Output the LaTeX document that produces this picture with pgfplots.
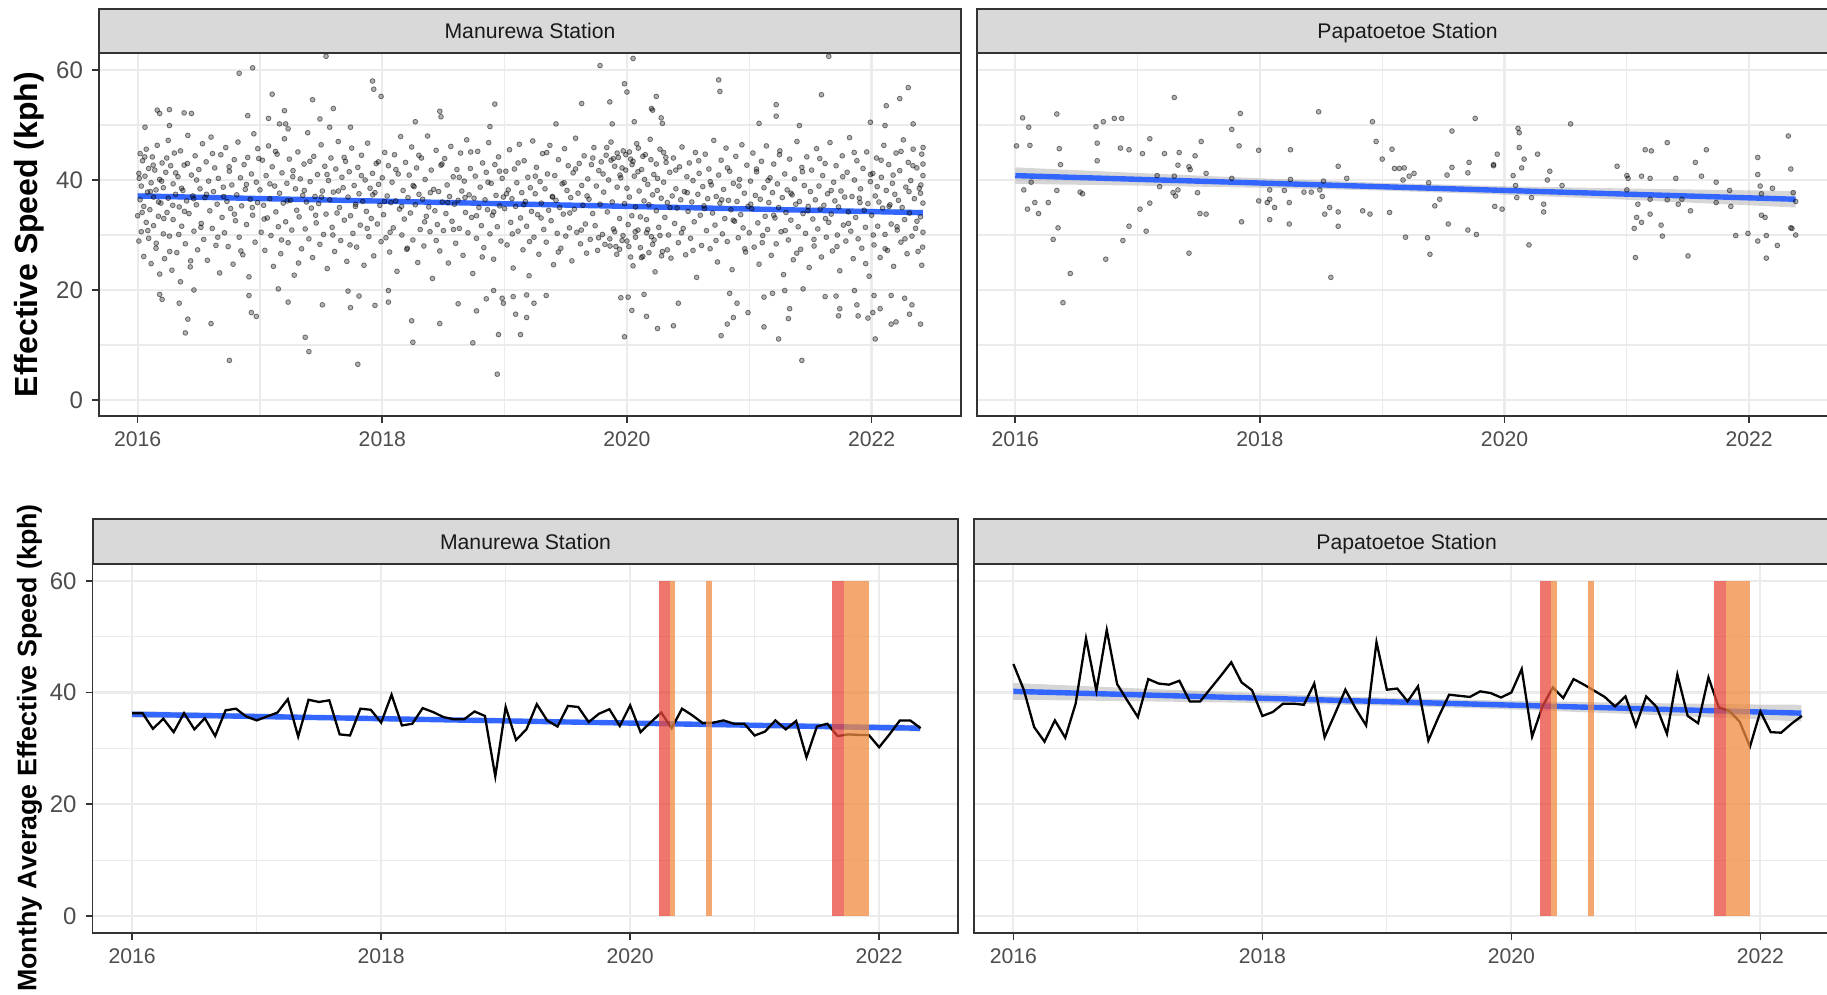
\documentclass[border=0pt]{standalone}
\usepackage{fontspec}
\setmainfont{Liberation Sans}
\usepackage{pgfplots}
\pgfplotsset{compat=1.18}
\definecolor{gridc}{HTML}{EBEBEB}
\definecolor{framec}{HTML}{333333}
\definecolor{stripc}{HTML}{D9D9D9}
\definecolor{tickc}{HTML}{4D4D4D}
\definecolor{stript}{HTML}{1A1A1A}
\definecolor{fitblue}{HTML}{3366FF}
\definecolor{lvfour}{RGB}{234,72,59}
\definecolor{lvthree}{RGB}{240,139,64}
\pgfplotsset{
  facet/.style={
    scale only axis, width=431pt, height=181.2pt,
    xmin=-0.316, xmax=6.731, ymin=-2.85, ymax=63.04,
    axis line style={framec, line width=0.9pt},
    xtick={0,2,4,6}, xticklabels={2016,2018,2020,2022}, minor xtick={1,3,5},
    ytick={0,20,40,60}, minor ytick={10,30,50},
    grid=both,
    major grid style={gridc, line width=1.1pt},
    minor grid style={gridc, line width=0.55pt},
    tick align=outside, tick pos=left,
    major tick length=3.5pt, minor tick length=0pt,
    tick style={framec, line width=0.8pt},
    /pgf/number format/assume math mode=true,
    xticklabel style={font=\fontsize{10.6}{12}\selectfont, text=tickc, anchor=north, yshift=-1pt},
    yticklabel style={font=\fontsize{12}{14}\selectfont, text=tickc, anchor=east, xshift=-1pt},
  },
  lower/.style={width=432.85pt, height=184.35pt, xmin=-0.318, xmax=6.636, ymin=-3, ymax=63},
  noy/.style={yticklabels={,,,}, ytick style={draw=none}},
  pts/.style={only marks, mark=*, mark size=1.2pt, mark options={draw=black, fill=black, line width=0.4pt, draw opacity=0.5, fill opacity=0.3}},
  band/.style={draw=none, fill=#1, fill opacity=0.75},
  fit/.style={fitblue, line width=2.7pt},
}
\newcommand{\facetstrip}[3]{%
  \draw[framec, fill=stripc, line width=0.9pt] (#1.north west) rectangle ([yshift=#2]#1.north east);
  \node[font=\fontsize{10.6}{12}\selectfont, text=stript, text height=7.6pt, text depth=0pt, inner sep=0pt] at ([yshift=#2/2]#1.north) {#3};}
\begin{document}
\begin{tikzpicture}
\useasboundingbox (0,0) rectangle (913.5pt,497.5pt);
% ---------------- top left
\begin{axis}[facet, name=tl, at={(49.5pt,289.65pt)}, anchor=south west]
\addplot[pts] table[row sep=\\]{x y\\
0.00 33.5\\0.01 41.2\\0.01 28.9\\0.02 36.4\\0.02 44.8\\0.03 30.6\\0.03 38.9\\0.04 43.5\\0.05 26.1\\0.05 35.2\\0.06 40.7\\0.07 32.3\\0.07 45.6\\0.08 37.8\\0.09 29.4\\0.09 42.1\\0.10 34.6\\0.11 39.5\\0.11 24.8\\0.12 44.2\\0.13 36.9\\0.13 31.7\\0.14 41.8\\0.15 27.6\\0.15 38.2\\0.16 46.3\\0.17 33.4\\0.18 40.1\\0.18 22.9\\0.19 35.8\\0.20 43.1\\0.21 30.2\\0.21 38.6\\0.22 25.7\\0.23 41.4\\0.24 34.1\\0.25 47.2\\0.25 36.7\\0.26 29.8\\0.27 42.6\\0.28 23.6\\0.29 39.3\\0.29 32.8\\0.30 44.9\\0.31 37.4\\0.32 26.8\\0.33 40.6\\0.34 35.1\\0.35 21.5\\0.35 45.3\\0.36 31.6\\0.37 38.1\\0.38 42.7\\0.39 28.4\\0.40 36.2\\0.41 48.1\\0.42 33.9\\0.43 24.2\\0.44 40.9\\0.45 37.1\\0.46 30.7\\0.47 44.4\\0.48 35.5\\0.49 27.3\\0.50 41.9\\0.51 38.4\\0.52 32.1\\0.53 46.6\\0.54 29.2\\0.55 36.8\\0.56 43.3\\0.57 25.4\\0.58 39.8\\0.59 34.4\\0.60 47.8\\0.61 31.2\\0.62 37.9\\0.63 42.2\\0.64 28.1\\0.65 35.6\\0.66 40.3\\0.67 23.1\\0.68 44.6\\0.69 33.2\\0.70 38.7\\0.71 30.4\\0.72 45.9\\0.73 36.1\\0.74 27.9\\0.75 41.6\\0.76 34.8\\0.77 39.1\\0.78 24.7\\0.79 43.7\\0.80 32.6\\0.81 37.3\\0.82 46.9\\0.83 29.6\\0.84 40.4\\0.85 35.3\\0.86 26.4\\0.87 42.8\\0.88 38.3\\0.89 31.9\\0.90 44.1\\0.91 22.4\\0.92 36.5\\0.93 41.1\\0.94 33.6\\0.95 48.4\\0.96 28.7\\0.97 39.6\\0.98 35.9\\0.99 43.9\\
1.00 38.2\\1.01 30.5\\1.02 43.6\\1.03 35.4\\1.04 27.2\\1.05 40.8\\1.06 33.1\\1.07 46.2\\1.08 36.6\\1.09 29.9\\1.10 42.4\\1.11 24.3\\1.12 38.9\\1.13 34.2\\1.14 44.7\\1.15 31.5\\1.16 37.6\\1.17 26.6\\1.18 41.3\\1.19 35.8\\1.20 47.5\\1.21 32.4\\1.22 39.4\\1.23 28.6\\1.24 43.8\\1.25 36.3\\1.26 30.9\\1.27 41.7\\1.28 22.7\\1.29 38.4\\1.30 34.5\\1.31 45.1\\1.32 33.3\\1.33 40.2\\1.34 27.5\\1.35 37.2\\1.36 42.9\\1.37 31.1\\1.38 36.0\\1.39 48.6\\1.40 29.3\\1.41 39.7\\1.42 34.9\\1.43 25.9\\1.44 44.3\\1.45 37.0\\1.46 32.2\\1.47 41.0\\1.48 35.7\\1.49 28.3\\1.50 46.4\\1.51 38.0\\1.52 30.1\\1.53 42.5\\1.54 33.8\\1.55 23.9\\1.56 39.9\\1.57 36.4\\1.58 44.0\\1.59 31.4\\1.60 37.8\\1.61 27.0\\1.62 42.0\\1.63 34.0\\1.64 47.0\\1.65 35.0\\1.66 29.0\\1.67 40.5\\1.68 38.6\\1.69 32.7\\1.70 43.4\\1.71 25.2\\1.72 36.9\\1.73 41.5\\1.74 33.5\\1.75 45.8\\1.76 30.3\\1.77 39.0\\1.78 35.2\\1.79 27.8\\1.80 42.3\\1.81 37.5\\1.82 31.8\\1.83 44.5\\1.84 36.1\\1.85 24.5\\1.86 40.0\\1.87 34.3\\1.88 46.7\\1.89 29.7\\1.90 38.5\\1.91 33.0\\1.92 41.2\\1.93 26.2\\1.94 37.7\\1.95 43.0\\1.96 32.0\\1.97 39.2\\1.98 35.4\\1.99 28.8\\
2.00 40.4\\2.01 33.7\\2.02 45.0\\2.03 29.5\\2.04 37.1\\2.05 42.6\\2.06 26.9\\2.07 35.9\\2.08 39.6\\2.09 31.3\\2.10 44.6\\2.11 36.2\\2.12 23.4\\2.13 41.1\\2.14 34.7\\2.15 47.9\\2.16 30.0\\2.17 38.1\\2.18 32.9\\2.19 43.2\\2.20 27.4\\2.21 36.8\\2.22 40.9\\2.23 34.0\\2.24 46.0\\2.25 29.1\\2.26 38.8\\2.27 35.5\\2.28 42.2\\2.29 25.0\\2.30 37.4\\2.31 31.0\\2.32 44.0\\2.33 36.5\\2.34 28.0\\2.35 40.1\\2.36 33.4\\2.37 48.0\\2.38 35.1\\2.39 30.6\\2.40 41.8\\2.41 22.1\\2.42 38.3\\2.43 34.4\\2.44 45.4\\2.45 31.9\\2.46 37.9\\2.47 27.1\\2.48 42.7\\2.49 36.0\\2.50 30.8\\2.51 43.9\\2.52 33.9\\2.53 39.1\\2.54 24.9\\2.55 37.0\\2.56 46.1\\2.57 32.5\\2.58 40.6\\2.59 35.6\\2.60 28.5\\2.61 41.9\\2.62 36.3\\2.63 31.2\\2.64 44.9\\2.65 38.0\\2.66 26.3\\2.67 39.8\\2.68 34.1\\2.69 47.3\\2.70 30.4\\2.71 37.3\\2.72 42.1\\2.73 33.2\\2.74 23.0\\2.75 36.7\\2.76 40.7\\2.77 29.4\\2.78 45.2\\2.79 35.0\\2.80 38.7\\2.81 31.7\\2.82 43.1\\2.83 27.7\\2.84 36.4\\2.85 41.4\\2.86 34.6\\2.87 46.8\\2.88 30.2\\2.89 39.4\\2.90 33.6\\2.91 25.6\\2.92 42.8\\2.93 37.2\\2.94 31.5\\2.95 44.2\\2.96 35.3\\2.97 28.9\\2.98 40.3\\2.99 36.9\\
3.00 34.8\\3.01 41.6\\3.02 28.2\\3.03 38.2\\3.04 45.5\\3.05 32.3\\3.06 36.6\\3.07 24.0\\3.08 42.0\\3.09 35.2\\3.10 39.5\\3.11 30.7\\3.12 46.5\\3.13 33.1\\3.14 37.7\\3.15 27.3\\3.16 43.5\\3.17 36.1\\3.18 31.6\\3.19 40.5\\3.20 22.6\\3.21 38.6\\3.22 34.3\\3.23 47.1\\3.24 29.6\\3.25 37.5\\3.26 42.3\\3.27 33.7\\3.28 26.5\\3.29 39.7\\3.30 35.8\\3.31 44.8\\3.32 31.0\\3.33 38.4\\3.34 28.7\\3.35 41.1\\3.36 34.5\\3.37 46.3\\3.38 32.6\\3.39 37.0\\3.40 24.6\\3.41 40.8\\3.42 36.3\\3.43 30.3\\3.44 43.7\\3.45 35.0\\3.46 27.6\\3.47 39.3\\3.48 33.8\\3.49 45.7\\3.50 29.8\\3.51 38.1\\3.52 42.6\\3.53 31.3\\3.54 36.8\\3.55 25.3\\3.56 41.3\\3.57 34.7\\3.58 47.6\\3.59 30.5\\3.60 37.6\\3.61 43.0\\3.62 28.4\\3.63 39.0\\3.64 35.4\\3.65 44.4\\3.66 32.0\\3.67 26.7\\3.68 40.2\\3.69 36.5\\3.70 29.2\\3.71 42.8\\3.72 33.9\\3.73 45.9\\3.74 31.7\\3.75 38.9\\3.76 27.2\\3.77 41.7\\3.78 35.6\\3.79 43.3\\3.80 30.1\\3.81 37.8\\3.82 28.3\\3.83 44.5\\3.84 34.2\\3.85 40.0\\3.86 29.3\\3.87 46.9\\3.88 36.0\\3.89 31.1\\3.90 42.5\\3.91 27.9\\3.92 38.7\\3.93 44.1\\3.94 33.0\\3.95 40.4\\3.96 29.0\\3.97 45.3\\3.98 35.7\\3.99 41.8\\
3.87 43.6\\3.92 44.9\\3.96 42.2\\4.02 45.1\\4.05 43.4\\4.09 41.5\\4.13 44.3\\4.18 26.8\\3.94 27.4\\4.00 28.9\\4.03 26.0\\4.07 29.6\\4.11 27.7\\4.16 30.4\\4.21 28.3\\4.27 29.9\\4.33 27.3\\3.90 30.6\\4.24 42.9\\4.30 45.0\\
4.00 38.5\\4.01 31.9\\4.02 36.9\\4.03 43.8\\4.04 33.5\\4.05 24.4\\4.06 40.7\\4.07 35.1\\4.08 46.6\\4.09 30.9\\4.10 38.0\\4.11 33.3\\4.12 41.9\\4.13 26.1\\4.14 36.2\\4.15 44.6\\4.16 32.8\\4.17 39.2\\4.18 35.5\\4.19 47.4\\4.20 29.7\\4.21 37.3\\4.22 41.0\\4.23 23.3\\4.24 34.4\\4.25 40.3\\4.26 31.4\\4.27 45.6\\4.28 36.7\\4.29 27.0\\4.30 39.6\\4.31 33.2\\4.32 43.2\\4.33 35.9\\4.34 30.0\\4.35 41.4\\4.36 25.8\\4.37 37.1\\4.38 44.0\\4.39 32.1\\4.40 38.4\\4.41 34.9\\4.42 28.6\\4.43 42.4\\4.44 36.4\\4.45 46.0\\4.46 31.2\\4.47 37.9\\4.48 26.4\\4.49 40.6\\4.50 34.3\\4.51 43.1\\4.52 29.4\\4.53 36.0\\4.54 39.9\\4.55 32.4\\4.56 45.0\\4.57 22.3\\4.58 37.4\\4.59 41.2\\4.60 33.6\\4.61 28.1\\4.62 38.8\\4.63 35.3\\4.64 44.7\\4.65 30.8\\4.66 36.6\\4.67 42.0\\4.68 27.5\\4.69 39.1\\4.70 34.0\\4.71 47.2\\4.72 31.8\\4.73 37.0\\4.74 25.1\\4.75 40.9\\4.76 35.8\\4.77 43.6\\4.78 30.2\\4.79 38.3\\4.80 33.0\\4.81 45.8\\4.82 28.8\\4.83 36.3\\4.84 41.6\\4.85 34.6\\4.86 23.7\\4.87 39.4\\4.88 32.5\\4.89 44.3\\4.90 36.1\\4.91 29.5\\4.92 40.1\\4.93 33.7\\4.94 46.4\\4.95 31.3\\4.96 37.6\\4.97 26.9\\4.98 42.7\\4.99 35.2\\
5.00 30.4\\5.01 39.8\\5.02 34.8\\5.03 44.9\\5.04 27.8\\5.05 37.2\\5.06 41.5\\5.07 32.2\\5.08 24.7\\5.09 36.5\\5.10 43.4\\5.11 29.9\\5.12 38.6\\5.13 33.4\\5.14 46.2\\5.15 31.0\\5.16 35.9\\5.17 40.4\\5.18 26.3\\5.19 37.7\\5.20 42.9\\5.21 33.1\\5.22 28.4\\5.23 39.3\\5.24 35.0\\5.25 45.3\\5.26 30.6\\5.27 36.8\\5.28 22.8\\5.29 41.1\\5.30 34.1\\5.31 38.2\\5.32 29.1\\5.33 43.8\\5.34 32.7\\5.35 37.3\\5.36 25.5\\5.37 40.2\\5.38 35.6\\5.39 47.0\\5.40 31.5\\5.41 36.1\\5.42 27.4\\5.43 42.3\\5.44 33.9\\5.45 39.0\\5.46 30.3\\5.47 44.2\\5.48 34.4\\5.49 24.1\\5.50 37.9\\5.51 41.8\\5.52 32.9\\5.53 28.0\\5.54 36.4\\5.55 45.7\\5.56 31.1\\5.57 38.9\\5.58 34.7\\5.59 26.0\\5.60 40.8\\5.61 35.4\\5.62 43.0\\5.63 29.6\\5.64 37.5\\5.65 32.3\\5.66 46.8\\5.67 33.8\\5.68 27.1\\5.69 39.6\\5.70 36.2\\5.71 42.6\\5.72 30.0\\5.73 35.1\\5.74 23.5\\5.75 38.0\\5.76 44.4\\5.77 31.8\\5.78 36.9\\5.79 28.9\\5.80 41.4\\5.81 34.2\\5.82 47.7\\5.83 30.7\\5.84 37.0\\5.85 25.7\\5.86 40.0\\5.87 33.2\\5.88 43.5\\5.89 29.3\\5.90 36.7\\5.91 38.4\\5.92 27.6\\5.93 42.1\\5.94 34.5\\5.95 31.4\\5.96 45.1\\5.97 35.7\\5.98 22.5\\5.99 39.7\\
6.00 33.6\\6.01 41.2\\6.02 28.2\\6.03 37.1\\6.04 44.0\\6.05 31.6\\6.06 36.0\\6.07 25.9\\6.08 40.5\\6.09 34.9\\6.10 46.3\\6.11 30.1\\6.12 38.1\\6.13 27.2\\6.14 42.8\\6.15 35.5\\6.16 32.0\\6.17 39.4\\6.18 24.3\\6.19 37.4\\6.20 44.9\\6.21 30.9\\6.22 36.3\\6.23 41.7\\6.24 28.7\\6.25 35.0\\6.26 47.3\\6.27 32.8\\6.28 38.7\\6.29 26.6\\6.30 43.2\\6.31 34.0\\6.32 39.9\\6.33 29.8\\6.34 45.6\\6.35 36.6\\6.36 31.2\\6.37 42.2\\6.38 27.0\\6.39 38.5\\6.40 33.3\\6.41 44.7\\6.42 35.8\\6.42 30.5\\6.42 40.8\\6.41 24.5\\6.40 37.6\\6.42 42.9\\
0.013 40.3\\0.037 34.1\\0.058 44.2\\0.083 30.8\\0.104 37.9\\0.127 42.7\\0.152 28.5\\0.171 36.0\\0.196 39.8\\0.214 33.0\\0.238 44.0\\0.262 27.0\\0.287 35.4\\0.311 41.3\\0.336 30.1\\0.359 38.5\\0.383 34.3\\0.407 43.0\\0.433 25.3\\0.458 36.6\\0.482 40.0\\0.517 31.4\\0.563 37.4\\0.612 44.8\\0.655 29.6\\0.703 37.0\\0.748 42.4\\0.791 33.8\\0.844 27.1\\0.889 39.2\\0.937 35.0\\0.982 45.7\\
1.034 32.9\\1.081 39.3\\1.127 45.2\\1.176 29.1\\1.223 36.2\\1.268 40.6\\1.315 24.9\\1.362 38.1\\1.408 43.4\\1.455 33.6\\1.503 36.9\\1.548 41.0\\1.596 30.0\\1.641 38.0\\1.688 44.1\\1.736 28.2\\1.783 35.6\\1.829 40.8\\1.877 31.2\\1.922 37.3\\1.968 43.3\\
2.017 36.1\\2.064 30.5\\2.111 41.9\\2.158 35.2\\2.205 27.6\\2.252 39.0\\2.299 44.5\\2.346 32.4\\2.393 37.7\\2.441 29.0\\2.488 42.9\\2.535 35.9\\2.582 31.0\\2.629 40.5\\2.676 36.8\\2.723 45.1\\2.770 33.5\\2.817 26.0\\2.864 39.6\\2.911 34.2\\2.958 41.6\\
3.016 37.5\\3.063 30.2\\3.110 43.1\\3.157 35.5\\3.204 28.8\\3.251 40.7\\3.298 33.1\\3.345 45.0\\3.392 36.9\\3.439 26.9\\3.486 39.5\\3.533 34.0\\3.580 42.0\\3.627 30.9\\3.674 37.1\\3.721 44.0\\3.768 29.5\\3.805 41.1\\3.835 45.9\\3.862 28.0\\3.889 43.9\\3.917 26.5\\3.943 40.9\\3.968 29.9\\3.991 44.6\\
4.016 27.9\\4.042 42.8\\4.067 30.6\\4.093 45.8\\4.118 25.9\\4.144 40.1\\4.170 31.0\\4.196 43.7\\4.222 29.1\\4.248 38.1\\4.283 26.2\\4.318 44.1\\4.352 35.0\\4.399 41.8\\4.446 30.4\\4.493 37.7\\4.540 27.2\\4.587 43.5\\4.634 34.8\\4.681 39.7\\4.728 29.0\\4.775 36.4\\4.822 42.2\\4.869 32.7\\4.916 38.9\\4.963 27.5\\
5.012 35.6\\5.059 42.0\\5.106 28.6\\5.153 39.9\\5.200 33.6\\5.247 44.6\\5.294 30.8\\5.341 37.6\\5.388 26.7\\5.435 41.5\\5.482 35.2\\5.529 29.2\\5.576 43.9\\5.623 33.0\\5.670 38.1\\5.717 27.9\\5.764 40.6\\5.811 32.1\\5.858 45.0\\5.905 35.9\\5.952 24.8\\5.991 41.0\\
6.014 30.0\\6.046 38.8\\6.078 43.6\\6.111 27.5\\6.143 35.2\\6.176 40.9\\6.208 31.5\\6.241 45.2\\6.273 29.3\\6.306 37.9\\6.338 42.6\\6.371 32.5\\6.403 39.1\\6.417 27.8\\6.421 45.9\\
1.54 62.5\\0.83 59.4\\0.94 60.4\\1.10 55.6\\1.43 54.6\\1.92 58.0\\1.93 56.5\\1.99 55.2\\1.60 53.0\\1.49 51.1\\1.20 52.6\\1.07 51.2\\0.90 51.7\\0.16 52.7\\0.18 52.1\\0.26 52.8\\0.38 52.2\\0.44 52.1\\0.26 49.9\\0.06 49.6\\2.27 50.6\\2.47 52.5\\2.48 51.5\\2.92 53.8\\2.88 49.7\\1.16 50.2\\1.21 50.2\\1.23 49.3\\1.57 49.6\\1.74 49.6\\
0.18 19.2\\0.20 18.3\\0.34 17.6\\0.41 14.7\\0.39 12.2\\0.60 13.9\\0.46 20.0\\0.75 7.2\\0.91 19.0\\0.93 15.9\\0.97 15.2\\1.15 20.2\\1.23 17.8\\1.37 11.4\\1.40 8.8\\1.51 17.3\\1.72 19.8\\1.74 16.8\\1.81 18.9\\1.80 6.5\\1.94 17.2\\2.05 19.9\\2.05 17.8\\2.24 14.4\\2.25 10.5\\2.47 13.9\\2.62 17.5\\2.74 10.4\\2.77 16.2\\2.85 18.4\\2.91 19.9\\2.95 11.9\\2.94 4.7\\2.98 18.5\\2.99 17.6\\3.07 18.8\\3.09 15.6\\3.13 11.9\\3.18 15.0\\3.18 19.1\\
3.78 60.8\\4.05 62.1\\5.65 62.5\\3.98 57.5\\4.00 56.0\\4.75 58.2\\4.76 56.1\\4.24 55.2\\4.20 53.0\\4.21 52.7\\3.63 53.9\\3.86 54.2\\5.22 53.7\\5.22 51.6\\5.59 55.5\\6.30 56.8\\6.23 54.8\\6.12 53.5\\3.88 50.2\\4.06 50.6\\4.28 51.3\\4.29 50.3\\5.08 50.3\\5.41 49.9\\5.99 50.5\\6.11 49.9\\6.34 50.2\\3.42 50.2\\
3.24 17.6\\3.34 19.0\\3.98 11.5\\4.04 16.3\\3.95 18.6\\4.01 18.7\\4.14 19.2\\4.16 15.2\\4.25 13.0\\4.38 13.5\\4.42 17.6\\4.77 11.7\\4.82 13.8\\4.84 19.4\\4.90 17.6\\4.87 15.0\\4.99 15.9\\5.12 13.3\\5.12 18.7\\5.19 19.4\\5.24 11.1\\5.32 14.8\\5.33 16.6\\5.29 19.9\\5.43 7.2\\5.44 20.2\\5.62 18.8\\5.71 18.9\\5.73 15.3\\5.74 16.6\\5.86 19.9\\5.88 17.3\\5.89 15.3\\5.97 14.9\\6.01 15.9\\6.03 11.1\\6.02 19.0\\6.07 16.6\\6.16 13.8\\6.20 14.2\\6.16 19.0\\6.27 18.5\\6.31 15.6\\6.33 17.3\\6.40 13.8\\
};
\addplot[draw=none, fill=black!40, fill opacity=0.4] coordinates {(0,37.60)(1,37.01)(2,36.43)(3,35.90)(4,35.47)(5,35.06)(6,34.71)(6.42,34.56)(6.42,33.56)(6,33.81)(5,34.40)(4,34.95)(3,35.46)(2,35.87)(1,36.25)(0,36.60)};
\addplot[fit] coordinates {(0,37.1)(6.42,34.06)};
\end{axis}
\facetstrip{tl}{22.2pt}{Manurewa Station}
% ---------------- top right
\begin{axis}[facet, noy, name=tr, at={(488.3pt,289.65pt)}, anchor=south west]
\addplot[pts] table[row sep=\\]{x y\\
0.01 46.2\\0.06 51.3\\0.11 49.6\\0.12 46.3\\0.07 38.2\\0.13 39.6\\0.10 34.7\\0.16 35.9\\0.19 33.9\\0.27 35.9\\0.34 52.0\\0.36 45.7\\0.37 42.8\\0.34 38.1\\0.31 29.2\\0.35 31.3\\0.45 23.0\\0.39 17.7\\0.53 37.8\\0.55 37.5\\0.66 49.7\\0.67 46.7\\0.67 43.5\\0.72 50.6\\0.74 25.6\\0.81 51.2\\0.87 51.2\\0.86 45.8\\0.93 45.5\\0.88 29.0\\0.93 31.6\\
1.02 34.7\\1.07 30.7\\1.04 44.8\\1.10 47.5\\1.10 35.8\\1.16 40.8\\1.18 38.8\\1.22 44.8\\1.30 55.0\\1.30 40.7\\1.29 37.7\\1.31 37.1\\1.34 45.0\\1.33 42.7\\1.33 38.2\\1.42 42.4\\1.43 41.9\\1.42 26.7\\1.47 44.4\\1.49 37.7\\1.52 47.0\\1.51 33.9\\1.56 33.8\\1.56 41.2\\1.77 49.2\\1.77 40.3\\1.84 52.1\\1.83 46.2\\1.85 32.4\\1.99 45.4\\1.99 36.2\\
2.06 35.9\\2.08 36.5\\2.08 38.2\\2.08 32.8\\2.12 35.0\\2.20 38.1\\2.24 35.9\\2.24 32.0\\2.25 45.5\\2.25 40.1\\2.36 37.8\\2.42 37.8\\2.48 52.4\\2.49 38.2\\2.51 37.0\\2.52 39.8\\2.53 33.8\\2.57 35.0\\2.58 22.3\\2.64 34.2\\2.64 31.6\\2.64 42.5\\2.71 40.3\\2.84 34.4\\2.90 33.8\\2.92 50.6\\2.95 47.0\\
3.00 43.8\\3.06 34.1\\3.08 45.6\\3.10 42.1\\3.14 42.1\\3.18 42.2\\3.17 40.0\\3.22 40.7\\3.26 41.2\\3.19 29.6\\3.37 29.5\\3.39 26.5\\3.38 39.5\\3.43 35.3\\3.47 36.5\\3.53 40.9\\3.54 32.0\\3.57 48.9\\3.57 42.3\\3.70 41.3\\3.71 43.2\\3.70 30.9\\3.76 51.2\\3.77 30.1\\3.91 42.6\\3.91 42.8\\3.94 44.7\\3.92 35.2\\3.98 34.7\\
4.07 40.8\\4.09 39.0\\4.11 49.4\\4.12 48.6\\4.12 45.9\\4.14 42.2\\4.10 36.8\\4.16 43.8\\4.20 28.2\\4.22 36.8\\4.27 44.7\\4.32 35.6\\4.32 34.2\\4.37 41.6\\4.35 40.0\\4.47 39.0\\4.54 50.2\\4.92 42.5\\
5.00 40.8\\5.00 38.2\\5.01 40.3\\5.06 31.2\\5.07 25.9\\5.08 33.2\\5.09 35.6\\5.12 40.7\\5.12 32.3\\5.15 45.5\\5.19 33.8\\5.20 45.3\\5.19 40.3\\5.19 36.5\\5.28 31.8\\5.29 29.8\\5.33 46.8\\5.33 36.4\\5.40 40.3\\5.42 35.6\\5.45 36.5\\5.50 26.2\\5.52 34.4\\5.56 43.2\\5.61 40.7\\5.65 45.5\\5.73 39.6\\5.73 35.9\\5.85 35.2\\5.84 38.1\\5.89 29.9\\5.99 30.3\\
6.07 44.1\\6.07 41.0\\6.07 28.9\\6.09 38.9\\6.10 33.6\\6.10 37.5\\6.13 33.2\\6.14 25.8\\6.14 29.9\\6.19 38.5\\6.23 28.1\\6.32 48.0\\6.34 42.0\\6.34 31.3\\6.35 31.2\\6.36 37.7\\6.38 30.0\\6.38 36.1\\
};
\addplot[draw=none, fill=black!40, fill opacity=0.4] coordinates {(0,42.3)(1,41.28)(2,40.31)(3,39.48)(4,38.87)(5,38.45)(6,38.12)(6.38,38.0)(6.38,35.0)(6,35.40)(5,36.41)(4,37.33)(3,38.08)(2,38.59)(1,38.98)(0,39.3)};
\addplot[fit] coordinates {(0,40.8)(6.38,36.5)};
\end{axis}
\facetstrip{tr}{22.2pt}{Papatoetoe Station}
% ---------------- bottom left
\begin{axis}[facet, lower, name=bl, at={(46.3pt,31.15pt)}, anchor=south west]
\addplot[draw=none, fill=black!40, fill opacity=0.4] coordinates {(0,36.7)(1,36.18)(2,35.67)(3,35.22)(4,34.85)(5,34.55)(6,34.27)(6.33,34.2)(6.33,33.0)(6,33.19)(5,33.71)(4,34.19)(3,34.62)(2,34.95)(1,35.24)(0,35.5)};
\addplot[fit] coordinates {(0,36.1)(6.33,33.6)};
\addplot[black, line width=1.15pt] table[x expr=\coordindex/12, y index=0, header=false, row sep=\\]{
36.3\\36.3\\33.5\\35.3\\32.9\\36.3\\33.4\\35.4\\32.2\\36.8\\37.1\\35.7\\35.0\\35.7\\36.4\\38.8\\32.1\\38.7\\38.3\\38.6\\
32.5\\32.3\\37.1\\36.9\\34.6\\39.6\\34.1\\34.4\\37.2\\36.5\\35.6\\35.2\\35.2\\36.6\\35.8\\25.0\\37.4\\31.5\\33.4\\37.9\\
35.0\\33.9\\37.6\\37.4\\34.7\\36.2\\37.0\\34.0\\37.7\\32.9\\34.7\\36.4\\33.6\\37.1\\35.9\\34.5\\34.6\\35.0\\34.4\\34.4\\
32.3\\33.0\\35.0\\33.4\\34.9\\28.4\\33.9\\34.4\\32.2\\32.5\\32.4\\32.4\\30.2\\32.5\\35.0\\35.0\\33.6\\
};
\addplot[band=lvfour] coordinates {(4.232,0)(4.320,0)(4.320,60)(4.232,60)};
\addplot[band=lvthree] coordinates {(4.320,0)(4.363,0)(4.363,60)(4.320,60)};
\addplot[band=lvthree] coordinates {(4.612,0)(4.661,0)(4.661,60)(4.612,60)};
\addplot[band=lvfour] coordinates {(5.625,0)(5.721,0)(5.721,60)(5.625,60)};
\addplot[band=lvthree] coordinates {(5.721,0)(5.918,0)(5.918,60)(5.721,60)};
\end{axis}
\facetstrip{bl}{22.5pt}{Manurewa Station}
% ---------------- bottom right
\begin{axis}[facet, lower, noy, name=br, at={(486.9pt,31.15pt)}, anchor=south west]
\addplot[draw=none, fill=black!40, fill opacity=0.4] coordinates {(0,41.7)(1,40.73)(2,39.82)(3,39.06)(4,38.52)(5,38.13)(6,37.84)(6.33,37.8)(6.33,34.8)(6,35.16)(5,36.11)(4,36.96)(3,37.64)(2,38.12)(1,38.43)(0,38.7)};
\addplot[fit] coordinates {(0,40.2)(6.33,36.3)};
\addplot[black, line width=1.15pt] table[x expr=\coordindex/12, y index=0, header=false, row sep=\\]{
45.1\\40.5\\33.8\\31.2\\35.0\\31.9\\38.0\\49.7\\40.3\\51.2\\41.5\\38.5\\35.6\\42.4\\41.6\\41.4\\42.1\\38.4\\38.4\\40.7\\
43.0\\45.4\\41.8\\40.4\\35.8\\36.5\\38.0\\38.0\\37.8\\41.6\\32.0\\36.2\\40.5\\37.1\\34.1\\49.0\\40.5\\40.7\\38.4\\41.1\\
31.4\\35.7\\39.6\\39.4\\39.2\\40.2\\39.9\\39.1\\40.0\\44.2\\32.1\\37.5\\40.9\\39.0\\42.4\\41.4\\40.3\\39.2\\37.5\\39.3\\
34.0\\39.3\\37.4\\32.6\\43.2\\35.8\\34.5\\42.7\\37.3\\36.7\\34.8\\30.3\\36.6\\32.9\\32.8\\34.4\\35.8\\
};
\addplot[band=lvfour] coordinates {(4.232,0)(4.320,0)(4.320,60)(4.232,60)};
\addplot[band=lvthree] coordinates {(4.320,0)(4.363,0)(4.363,60)(4.320,60)};
\addplot[band=lvthree] coordinates {(4.612,0)(4.661,0)(4.661,60)(4.612,60)};
\addplot[band=lvfour] coordinates {(5.625,0)(5.721,0)(5.721,60)(5.625,60)};
\addplot[band=lvthree] coordinates {(5.721,0)(5.918,0)(5.918,60)(5.721,60)};
\end{axis}
\facetstrip{br}{22.5pt}{Papatoetoe Station}
% ---------------- axis titles
\node[rotate=90, font=\bfseries\fontsize{16}{19}\selectfont] at (14.5pt,380.25pt) {Effective Speed (kph)};
\node[rotate=90, font=\bfseries\fontsize{13.4}{16}\selectfont] at (14.75pt,123.5pt) {Monthy Average Effective Speed (kph)};
\end{tikzpicture}
\end{document}
